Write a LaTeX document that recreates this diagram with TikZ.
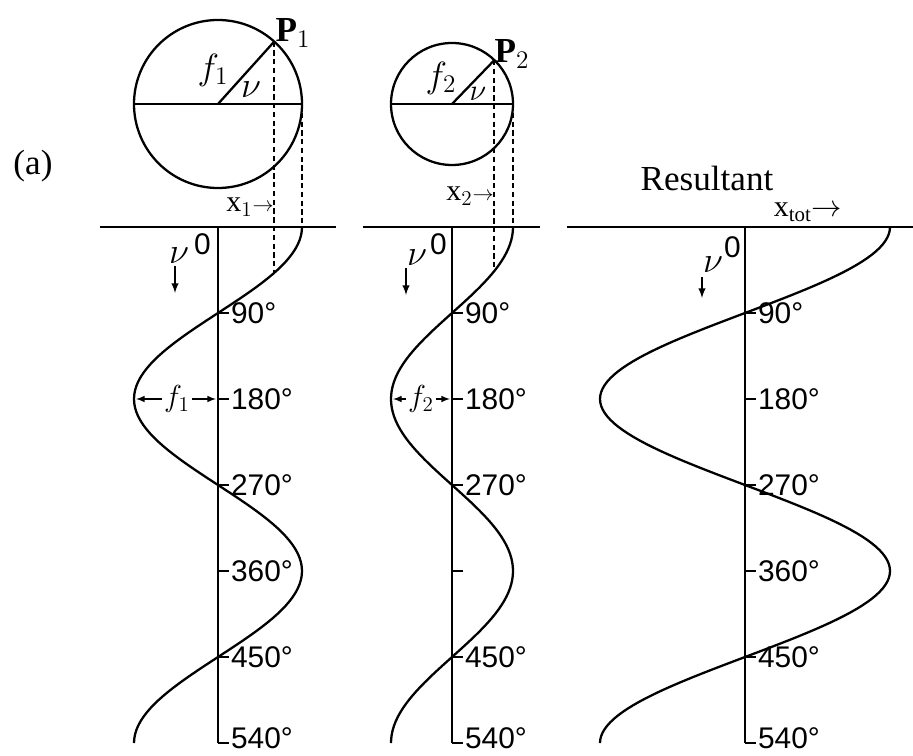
\documentclass[tikz,border=0pt]{standalone}
\usepackage{fontspec}
\setmainfont{Liberation Serif}
\setsansfont{Liberation Sans}
\usetikzlibrary{arrows}

\tikzset{
  axisline/.style={line width=1.3pt},
  wave/.style={line width=1.3pt},
  proj/.style={line width=1.2pt, dash pattern=on 3pt off 2pt},
  deg/.style={anchor=west, inner sep=1pt, font=\sffamily\fontsize{17}{17}\selectfont},
  lab/.style={inner sep=1pt, font=\fontsize{20}{20}\selectfont},
  small/.style={inner sep=1pt, font=\fontsize{17}{17}\selectfont},
}

\begin{document}
\begin{tikzpicture}[x=0.02cm,y=-0.02cm]
\useasboundingbox (0,0) rectangle (913,756);

\node[lab] (a) at (33,166) {(a)};

% first component
\draw[axisline] (218,104) circle (84);
\draw[axisline] (134,104) -- (302,104);
\coordinate (c1) at (218,104);
\coordinate (p1) at ({218+84*cos(48)},{104-84*sin(48)});
\draw[axisline] (c1) -- (p1);
\node[lab] (P1) at (293,33) {\textbf{P}$_1$};
\node[lab] (f1) at (213,70) {$f_1$};
\node[lab] (nu1) at (251,90) {$\nu$};
\coordinate (q1) at ({218+84*cos(48)},{227+0.9556*48});
\draw[proj] (p1) -- (q1);
\draw[proj] (302,104) -- (302,227);
\node[small] (x1) at (250,207) {x$_1$$\scriptstyle\rightarrow$};

\draw[axisline] (100,227) -- (336,227);
\draw[axisline] (218,227) -- (218,743);
\draw[wave] plot[domain=0:540, samples=121, variable=\t] ({218+84*cos(\t)},{227+0.9556*\t});
\node[deg] (z1) at (192,244) {0};
\node[lab] (v1) at (179,256) {$\nu$};
\coordinate (v1a) at (175,266);
\coordinate (v1b) at (175,293);
\draw[-latex,line width=0.9pt] (v1a) -- (v1b);
\foreach \a in {90,180,270,360,450,540}{
  \draw[axisline] (218,{227+0.9556*\a}) -- (229,{227+0.9556*\a});
}
\foreach \a in {90,180,270,360,450}{
  \node[deg] (d1-\a) at (229,{227+0.9556*\a}) {\a°};
}
\node[deg] (d1-540) at (229,738) {540°};
\node[small] (f1w) at (177,399) {$f_1$};
\coordinate (f1l) at (136,399);
\coordinate (f1r) at (216,399);
\draw[-latex,line width=0.7pt] (f1w) -- (f1l);
\draw[-latex,line width=0.7pt] (f1w) -- (f1r);

% second component
\draw[axisline] (452,104) circle (61);
\draw[axisline] (391,104) -- (513,104);
\coordinate (c2) at (452,104);
\coordinate (p2) at ({452+61*cos(46)},{104-61*sin(46)});
\draw[axisline] (c2) -- (p2);
\node[lab] (P2) at (512,54) {\textbf{P}$_2$};
\node[lab] (f2) at (441,78) {$f_2$};
\node[small] (nu2) at (478,94) {$\nu$};
\coordinate (q2) at ({452+61*cos(46)},{227+0.9556*46});
\draw[proj] (p2) -- (q2);
\draw[proj] (513,104) -- (513,227);
\node[small] (x2) at (470,196) {x$_2$$\scriptstyle\rightarrow$};

\draw[axisline] (363,227) -- (540,227);
\draw[axisline] (452,227) -- (452,743);
\draw[wave] plot[domain=0:540, samples=121, variable=\t] ({452+61*cos(\t)},{227+0.9556*\t});
\node[deg] (z2) at (428,244) {0};
\node[lab] (v2) at (417,258) {$\nu$};
\coordinate (v2a) at (406,268);
\coordinate (v2b) at (406,295);
\draw[-latex,line width=0.9pt] (v2a) -- (v2b);
\foreach \a in {90,180,270,360,450,540}{
  \draw[axisline] (452,{227+0.9556*\a}) -- (463,{227+0.9556*\a});
}
\foreach \a in {90,180,270,450}{
  \node[deg] (d2-\a) at (463,{227+0.9556*\a}) {\a°};
}
\node[deg] (d2-540) at (463,738) {540°};
\node[small] (f2w) at (421,399) {$f_2$};
\coordinate (f2l) at (393,399);
\coordinate (f2r) at (450,399);
\draw[-latex,line width=0.7pt] (f2w) -- (f2l);
\draw[-latex,line width=0.7pt] (f2w) -- (f2r);

% resultant
\node[lab] (res) at (707,178) {Resultant};
\node[small] (xt) at (808,212) {x$_{\mathrm{tot}}$$\rightarrow$};
\draw[axisline] (567,227) -- (913,227);
\draw[axisline] (745,227) -- (745,743);
\draw[wave] plot[domain=0:540, samples=151, variable=\t] ({745+145*cos(\t)},{227+0.9556*\t});
\node[deg] (z3) at (722,247) {0};
\node[lab] (v3) at (713,265) {$\nu$};
\coordinate (v3a) at (702,277);
\coordinate (v3b) at (702,298);
\draw[-latex,line width=0.9pt] (v3a) -- (v3b);
\foreach \a in {90,180,270,360,450,540}{
  \draw[axisline] (745,{227+0.9556*\a}) -- (756,{227+0.9556*\a});
}
\foreach \a in {90,180,270,360,450}{
  \node[deg] (d3-\a) at (756,{227+0.9556*\a}) {\a°};
}
\node[deg] (d3-540) at (756,738) {540°};

\end{tikzpicture}
\end{document}
